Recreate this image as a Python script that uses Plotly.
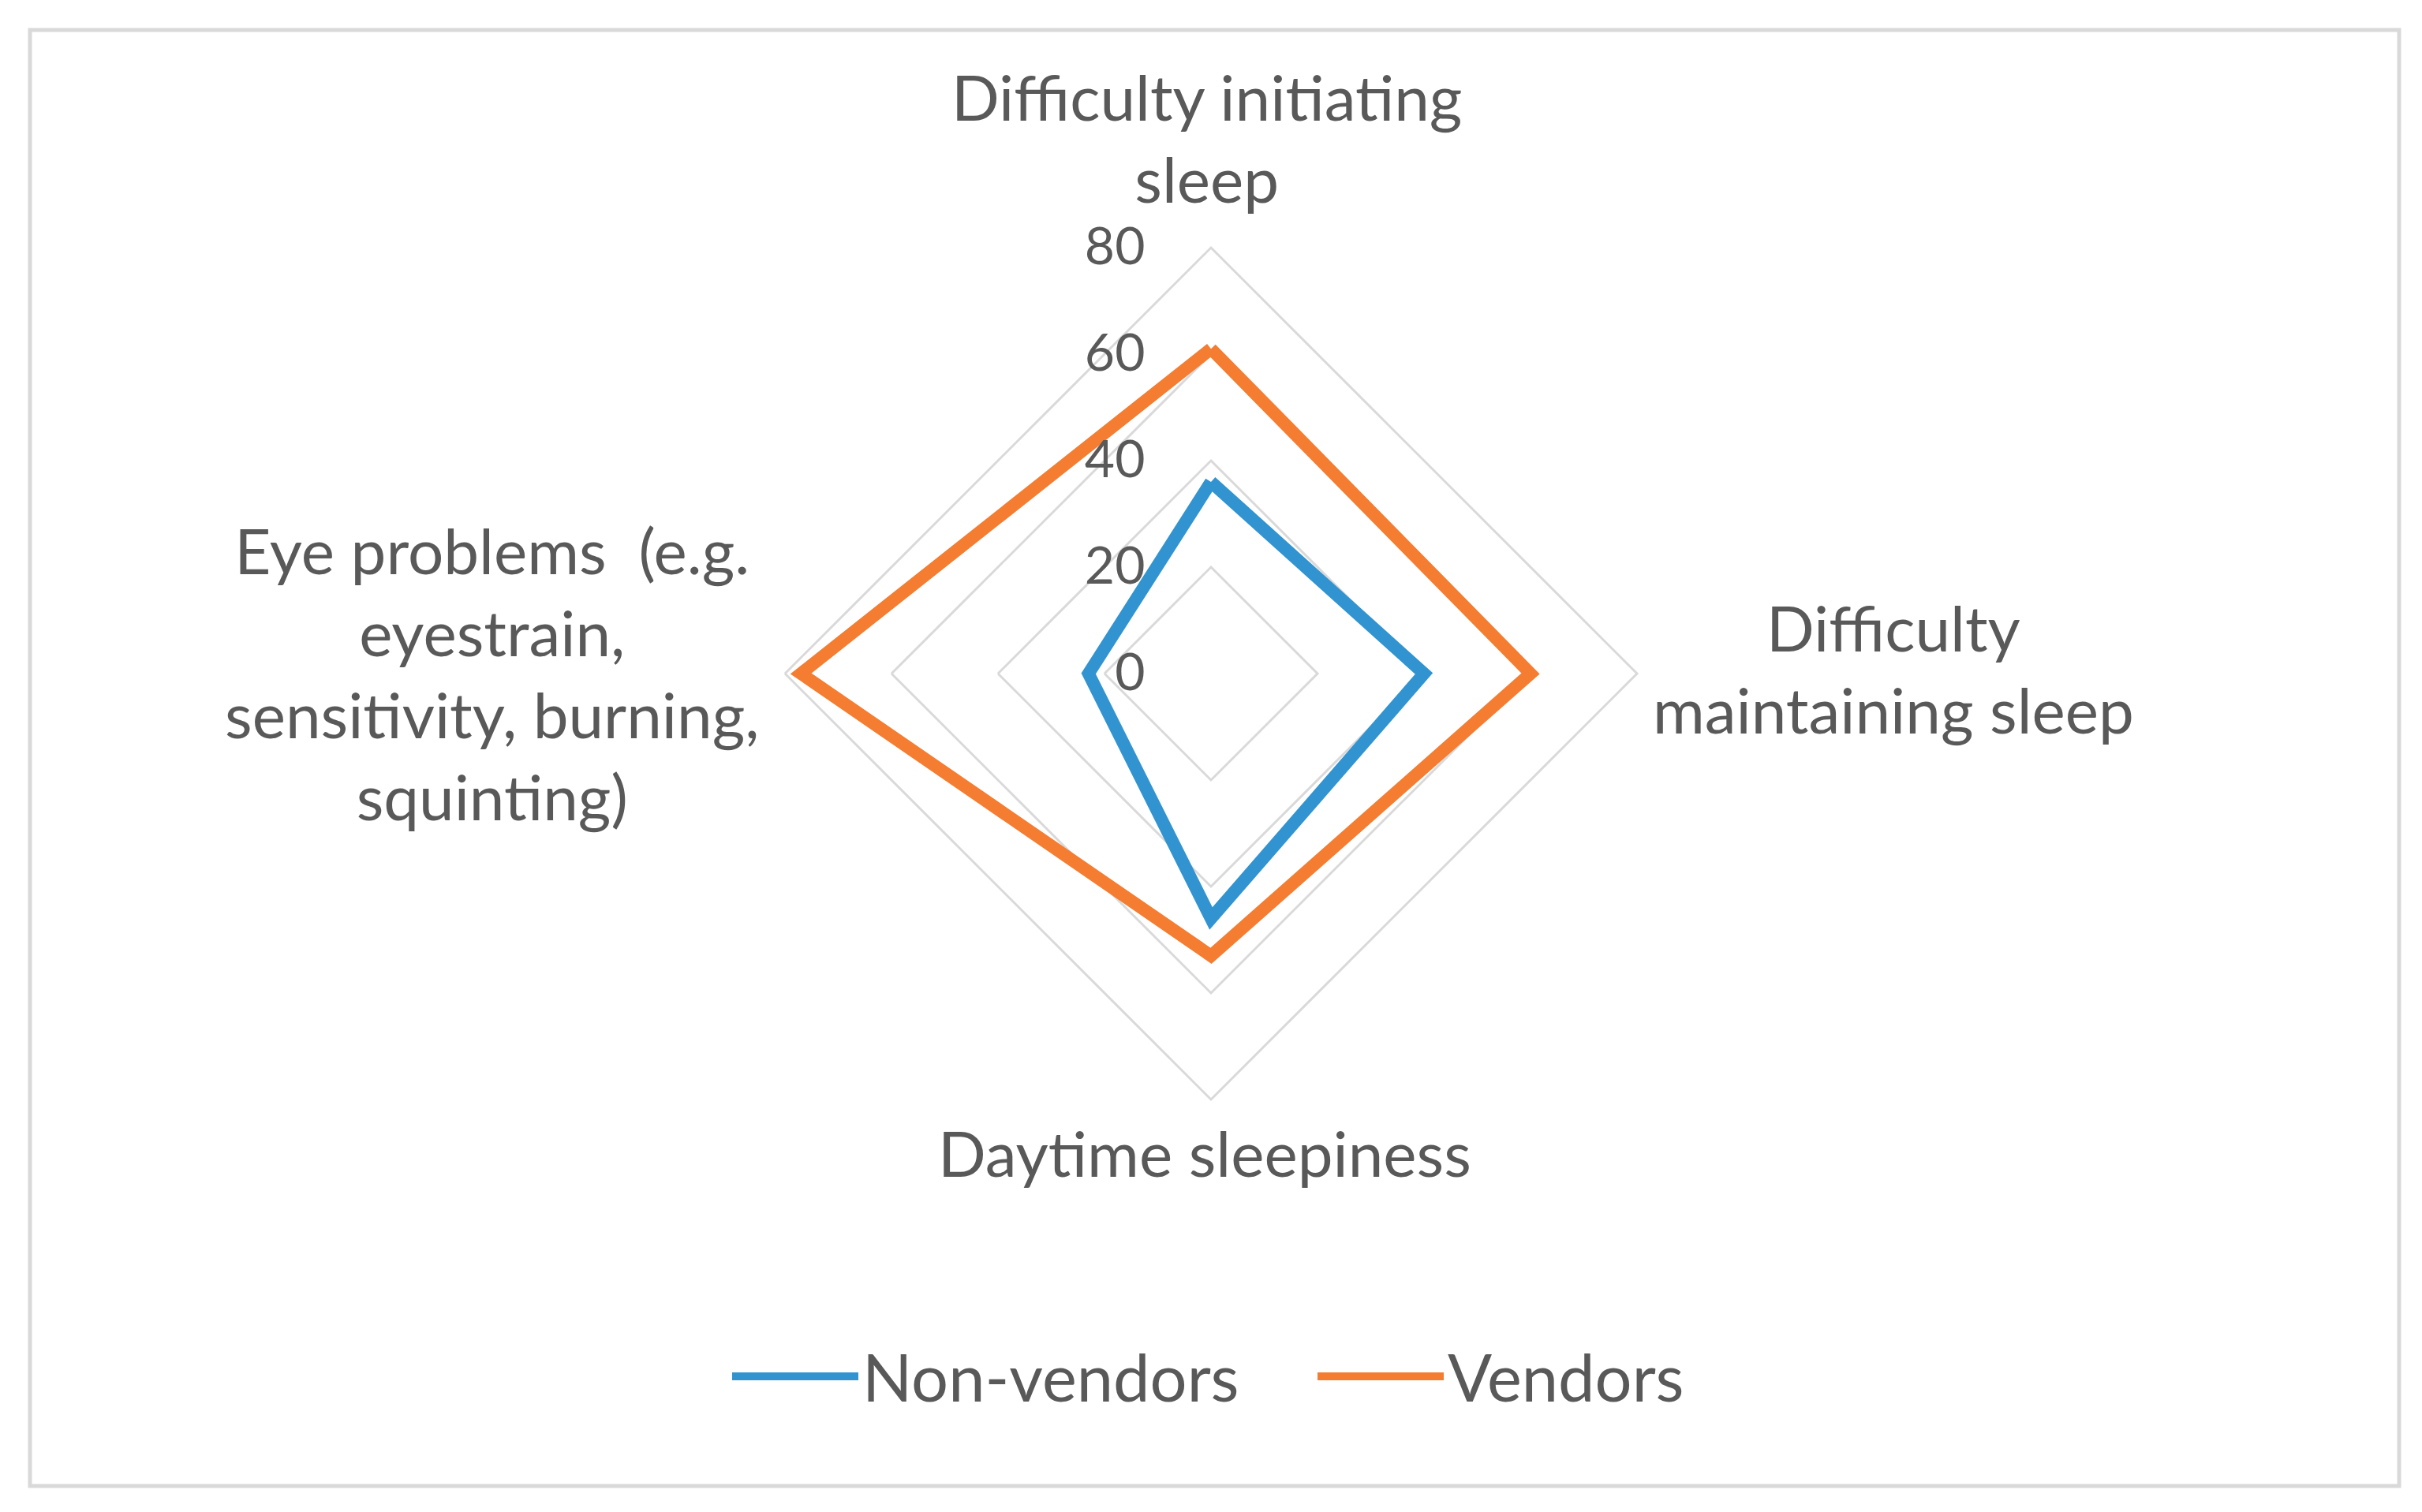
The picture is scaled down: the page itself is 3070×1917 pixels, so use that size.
import plotly.graph_objects as go

# categories (clockwise from the top)
categories = [
    'Difficulty initiating sleep',
    'Difficulty maintaining sleep',
    'Daytime sleepiness',
    'Eye problems  (e.g. eyestrain, sensitivity, burning, squinting)',
]
# how the category labels are wrapped in the chart
category_labels = [
    'Difficulty initiating<br>sleep',
    'Difficulty<br>maintaining sleep',
    'Daytime sleepiness',
    'Eye problems  (e.g.<br>eyestrain,<br>sensitivity, burning,<br>squinting)',
]
non_vendors = [36, 40, 46, 23]
vendors = [61, 60, 53, 77]
radial_ticks = [0, 20, 40, 60, 80]

series_colors = {'Non-vendors': '#3194D1', 'Vendors': '#F47D31'}
text_color = '#595959'
grid_color = '#D9D9D9'
font_family = 'Lato, Liberation Sans, Arial, sans-serif'

W, H = 3070, 1917

fig = go.Figure()
for name, values in [('Non-vendors', non_vendors), ('Vendors', vendors)]:
    # close the loop
    fig.add_trace(go.Scatterpolar(
        r=values + values[:1],
        theta=categories + categories[:1],
        mode='lines',
        name=name,
        line=dict(color=series_colors[name], width=16),
    ))

# polar area placed so the outer ring (80) has radius ~540 px around (1527, 846)
cx, cy, rad = 1527, 846, 540
fig.update_layout(
    width=W, height=H,
    margin=dict(l=0, r=0, t=0, b=0),
    paper_bgcolor='white',
    font=dict(family=font_family, color=text_color, size=80),
    polar=dict(
        domain=dict(x=[(cx - rad) / W, (cx + rad) / W],
                    y=[(H - cy - rad) / H, (H - cy + rad) / H]),
        bgcolor='white',
        gridshape='linear',
        angularaxis=dict(
            direction='clockwise',
            rotation=90,
            showline=True,
            linecolor=grid_color,
            linewidth=3,
            showgrid=False,
            showticklabels=False,
            ticks='',
        ),
        radialaxis=dict(
            range=[0, 80],
            tickvals=radial_ticks,
            angle=90,
            tickangle=90,
            side='counterclockwise',
            showline=False,
            ticks='outside',
            ticklen=60,
            tickcolor='rgba(0,0,0,0)',
            gridcolor=grid_color,
            gridwidth=3,
            tickfont=dict(size=66, color=text_color),
        ),
    ),
    legend=dict(
        orientation='h',
        x=915 / W, xanchor='left',
        y=(H - 1737) / H, yanchor='middle',
        font=dict(size=83, color=text_color),
        itemwidth=160,
        entrywidth=567,
    ),
    shapes=[dict(type='rect', xref='paper', yref='paper',
                 x0=30 / W, x1=3033 / W, y0=1 - 1876 / H, y1=1 - 30 / H,
                 line=dict(color=grid_color, width=5))],
)

# category labels, centre-aligned like the original
label_pos = [(1521, 166), (2392, 839), (1519, 1453), (615, 845)]
for text, (px, py) in zip(category_labels, label_pos):
    fig.add_annotation(text=text, xref='paper', yref='paper',
                       x=px / W, y=1 - py / H, xanchor='center', yanchor='middle',
                       align='center', showarrow=False,
                       font=dict(size=80, color=text_color))

fig.write_html('out.html')
